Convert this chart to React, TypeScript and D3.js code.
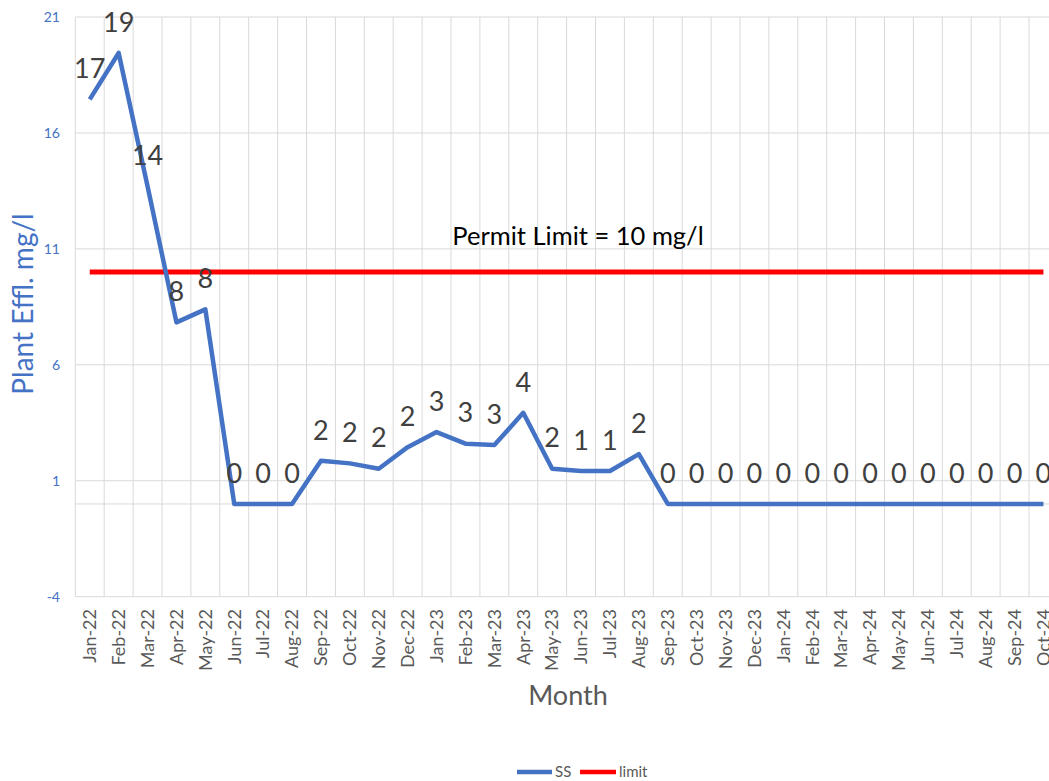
import React from "react";
import * as d3 from "d3";

const months = [
  "Jan-22","Feb-22","Mar-22","Apr-22","May-22","Jun-22","Jul-22","Aug-22","Sep-22","Oct-22","Nov-22","Dec-22",
  "Jan-23","Feb-23","Mar-23","Apr-23","May-23","Jun-23","Jul-23","Aug-23","Sep-23","Oct-23","Nov-23","Dec-23",
  "Jan-24","Feb-24","Mar-24","Apr-24","May-24","Jun-24","Jul-24","Aug-24","Sep-24","Oct-24",
];
const ssValues = [
  17.45, 19.45, 13.7, 7.83, 8.39, 0, 0, 0, 1.86, 1.75, 1.52, 2.45,
  3.1, 2.6, 2.54, 3.93, 1.52, 1.42, 1.42, 2.15, 0, 0, 0, 0,
  0, 0, 0, 0, 0, 0, 0, 0, 0, 0,
];
const limitValue = 10;
const yTicks = [-4, 1, 6, 11, 16, 21];

const W = 1049, H = 781;
const left = 75.3, top = 17, bottom = 596.7, bandW = 28.9;
const FONT = "Lato, 'Open Sans', sans-serif";

export default function App() {
  const x = d3.scaleBand<string>().domain(months).range([left, left + bandW * months.length]).padding(0);
  const y = d3.scaleLinear().domain([-4, 21]).range([bottom, top]);
  const cx = (m: string) => (x(m) as number) + x.bandwidth() / 2;
  const right = left + bandW * months.length;

  const ssLine = d3.line<number>().x((_, i) => cx(months[i])).y((v) => y(v));
  const limitLine = d3.line<string>().x((m) => cx(m)).y(() => y(limitValue));

  return (
    <svg width={W} height={H} style={{ position: "absolute", left: 0, top: 0, background: "#fff" }} fontFamily={FONT}>
      {yTicks.map((t) => (
        <line key={"h" + t} x1={left} x2={right} y1={y(t)} y2={y(t)} stroke="#D9D9D9" strokeWidth={1} />
      ))}
      {months.map((m) => (
        <line key={"v" + m} x1={x(m)} x2={x(m)} y1={top} y2={bottom} stroke="#D9D9D9" strokeWidth={1} />
      ))}
      <line x1={right} x2={right} y1={top} y2={bottom} stroke="#D9D9D9" />
      <line x1={left} x2={right} y1={y(0)} y2={y(0)} stroke="#D9D9D9" strokeWidth={1} />

      {yTicks.map((t) => (
        <text key={"yt" + t} x={60} y={y(t)} dy="0.35em" textAnchor="end" fontSize={14} fill="#4472C4">{t}</text>
      ))}
      {months.map((m) => (
        <text key={"xt" + m} transform={`translate(${cx(m)},${609}) rotate(-90)`} textAnchor="end" dy="0.35em" fontSize={18} fill="#595959">{m}</text>
      ))}

      <path d={limitLine(months) || ""} fill="none" stroke="#FF0000" strokeWidth={5} />
      <path d={ssLine(ssValues) || ""} fill="none" stroke="#4472C4" strokeWidth={4.5} strokeLinejoin="round" />

      {ssValues.map((v, i) => (
        <text key={"dl" + i} x={cx(months[i])} y={y(v) - 31} dy="0.36em" textAnchor="middle" fontSize={27} fill="#404040">
          {Math.round(v)}
        </text>
      ))}

      <text x={578} y={245} textAnchor="middle" fontSize={25.5} fill="#000">Permit Limit = 10 mg/l</text>

      <text transform={`translate(33,${304}) rotate(-90)`} textAnchor="middle" fontSize={28} fill="#4472C4">Plant Effl. mg/l</text>
      <text x={568} y={705} textAnchor="middle" fontSize={27} fill="#595959">Month</text>

      <line x1={517} x2={552} y1={772} y2={772} stroke="#4472C4" strokeWidth={4.5} />
      <text x={555} y={772} dy="0.35em" fontSize={15} fill="#595959">SS</text>
      <line x1={580} x2={616} y1={772} y2={772} stroke="#FF0000" strokeWidth={4.5} />
      <text x={619} y={772} dy="0.35em" fontSize={15} fill="#595959">limit</text>
    </svg>
  );
}
